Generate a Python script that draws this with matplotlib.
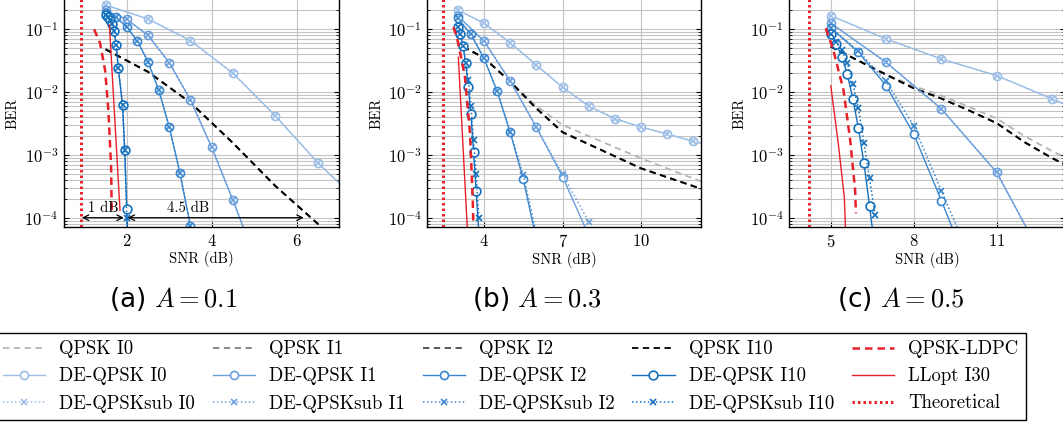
import matplotlib
matplotlib.use('Agg')
import matplotlib.pyplot as plt

plt.rcParams['font.family'] = 'cmr10'
plt.rcParams['mathtext.fontset'] = 'cm'
plt.rcParams['axes.formatter.use_mathtext'] = True
plt.rcParams['axes.unicode_minus'] = False

# ---------------- (a) A = 0.1 ----------------
a_xlim = (0.52, 7.0)
a_xticks = [2, 4, 6]
a_q_snr = [1.5, 2.5, 3.5, 4.5, 5.5, 6.5, 7.0]
a_q0_ber = [0.048, 0.021, 0.0068, 1.55e-3, 3.2e-4, 8.0e-5, 4.0e-5]
a_q1_ber = [0.048, 0.021, 0.0068, 1.55e-3, 3.2e-4, 8.0e-5, 4.0e-5]
a_q2_ber = [0.048, 0.021, 0.0068, 1.55e-3, 3.2e-4, 8.0e-5, 4.0e-5]
a_q10_ber = [0.048, 0.021, 0.0068, 1.55e-3, 3.2e-4, 8.0e-5, 4.0e-5]
a_de0_snr = [1.5, 2.5, 3.5, 4.5, 5.5, 6.5, 7.5]
a_de0_ber = [0.244, 0.146, 0.066, 0.020, 0.0042, 7.5e-4, 1.7e-4]
a_sub0_ber = [0.244, 0.146, 0.066, 0.020, 0.0042, 7.5e-4, 1.7e-4]
a_de1_snr = [1.5, 2.0, 2.5, 3.0, 3.5, 4.0, 4.5, 5.0]
a_de1_ber = [0.20, 0.144, 0.08, 0.0295, 0.0075, 1.32e-3, 1.9e-4, 2.5e-5]
a_sub1_ber = [0.20, 0.144, 0.08, 0.0295, 0.0075, 1.32e-3, 1.9e-4, 2.5e-5]
a_de2_snr = [1.5, 1.75, 2.0, 2.25, 2.5, 2.75, 3.0, 3.25, 3.5]
a_de2_ber = [0.18, 0.155, 0.108, 0.065, 0.0305, 0.0108, 0.0028, 5.2e-4, 7.3e-5]
a_sub2_ber = [0.18, 0.155, 0.108, 0.065, 0.0305, 0.0108, 0.0028, 5.2e-4, 7.3e-5]
a_de10_snr = [1.5, 1.55, 1.6, 1.65, 1.7, 1.75, 1.8, 1.9, 1.95, 2.0, 2.05]
a_de10_ber = [0.17, 0.158, 0.14, 0.12, 0.094, 0.056, 0.024, 0.0062, 1.2e-3, 1.4e-4, 1e-6]
a_sub10_ber = [0.17, 0.158, 0.14, 0.12, 0.094, 0.056, 0.024, 0.0062, 1.2e-3, 1.0e-4, 1e-6]
a_ldpc_snr = [1.23, 1.37, 1.49, 1.565, 1.63, 1.645]
a_ldpc_ber = [0.1, 0.06, 0.022, 5.2e-3, 6.5e-4, 1.2e-4]
a_ll_snr = [1.59, 1.84]
a_ll_ber = [0.117, 1.3e-4]
a_theory = 0.92

# ---------------- (b) A = 0.3 ----------------
b_xlim = (1.83, 12.3)
b_xticks = [4, 7, 10]
b_q_snr = [3.2, 4, 5, 6, 7, 10, 12.5]
b_q0_ber = [0.053, 0.035, 0.0147, 0.006, 0.003, 8.8e-4, 3.5e-4]
b_q1_ber = [0.053, 0.035, 0.0147, 0.0055, 2.3e-3, 6.1e-4, 2.7e-4]
b_q2_ber = [0.053, 0.035, 0.0147, 0.0055, 2.3e-3, 6.1e-4, 2.7e-4]
b_q10_ber = [0.053, 0.035, 0.0147, 0.0055, 2.3e-3, 6.1e-4, 2.7e-4]
b_de0_snr = [3, 4, 5, 6, 7, 8, 9, 10, 11, 12, 13]
b_de0_ber = [0.203, 0.125, 0.061, 0.027, 0.0119, 0.006, 0.00378, 0.00278, 0.00215, 0.00164, 0.0013]
b_sub0_ber = [0.203, 0.125, 0.061, 0.027, 0.0119, 0.006, 0.00378, 0.00278, 0.00215, 0.00164, 0.0013]
b_de1_snr = [3, 4, 5, 6, 7, 8]
b_de1_ber = [0.163, 0.065, 0.015, 0.00275, 4.5e-4, 5.2e-5]
b_sub1_ber = [0.163, 0.065, 0.015, 0.00275, 4.9e-4, 8.6e-5]
b_de2_snr = [3, 3.5, 4, 4.5, 5, 5.5, 6]
b_de2_ber = [0.15, 0.083, 0.0345, 0.0104, 0.00229, 4.1e-4, 4.5e-5]
b_sub2_ber = [0.15, 0.083, 0.0345, 0.0104, 0.00229, 4.8e-4, 5.5e-5]
b_de10_snr = [3.0, 3.1, 3.2, 3.3, 3.4, 3.5, 3.6, 3.7, 3.8]
b_de10_ber = [0.11, 0.083, 0.054, 0.0294, 0.0119, 0.00448, 0.00112, 2.7e-4, 6e-5]
b_sub10_ber = [0.11, 0.083, 0.054, 0.0294, 0.0156, 0.006, 0.00173, 4.9e-4, 1e-4]
b_ldpc_snr = [2.83, 2.96, 3.1, 3.27, 3.465, 3.57, 3.59]
b_ldpc_ber = [0.108, 0.076, 0.04, 0.0176, 2.2e-3, 1.9e-4, 8.1e-5]
b_ll_snr = [3.02, 3.36]
b_ll_ber = [0.036, 7e-5]
b_theory = 2.42

# ---------------- (c) A = 0.5 ----------------
c_xlim = (3.5, 13.45)
c_xticks = [5, 8, 11]
c_q_snr = [5, 6, 7, 8, 9, 10, 11, 12, 13, 13.5]
c_q0_ber = [0.053, 0.0316, 0.019, 0.0125, 8.8e-3, 5.8e-3, 3.8e-3, 2.0e-3, 1.15e-3, 9e-4]
c_q1_ber = [0.053, 0.0316, 0.019, 0.0115, 7.9e-3, 5.1e-3, 3.2e-3, 1.6e-3, 8.9e-4, 6.9e-4]
c_q2_ber = [0.053, 0.0316, 0.019, 0.0115, 7.9e-3, 5.1e-3, 3.2e-3, 1.6e-3, 8.9e-4, 6.9e-4]
c_q10_ber = [0.053, 0.0316, 0.019, 0.0115, 7.9e-3, 5.1e-3, 3.2e-3, 1.6e-3, 8.9e-4, 6.9e-4]
c_de0_snr = [5, 7, 9, 11, 13, 15]
c_de0_ber = [0.165, 0.070, 0.0337, 0.0183, 0.0078, 0.0033]
c_sub0_ber = [0.165, 0.070, 0.0337, 0.0183, 0.0078, 0.0033]
c_de1_snr = [5, 7, 9, 11, 13]
c_de1_ber = [0.125, 0.0298, 0.0054, 5.25e-4, 1.2e-5]
c_sub1_ber = [0.125, 0.0298, 0.0054, 5.25e-4, 1.2e-5]
c_de2_snr = [5, 6, 7, 8, 9, 10]
c_de2_ber = [0.106, 0.043, 0.0127, 0.00215, 1.86e-4, 1.5e-5]
c_sub2_ber = [0.106, 0.045, 0.0148, 0.0029, 2.7e-4, 2.5e-5]
c_de10_snr = [5.0, 5.2, 5.4, 5.6, 5.8, 6.0, 6.2, 6.4, 6.6]
c_de10_ber = [0.083, 0.058, 0.0367, 0.0192, 0.0077, 0.00265, 7.3e-4, 1.55e-4, 3e-5]
c_sub10_ber = [0.083, 0.062, 0.046, 0.0287, 0.0133, 0.0055, 0.00153, 4.3e-4, 1.1e-4]
c_ldpc_snr = [4.82, 5.09, 5.46, 5.70, 5.88, 5.91]
c_ldpc_ber = [0.104, 0.047, 0.0107, 1.74e-3, 2.75e-4, 1.17e-4]
c_ll_snr = [5.0, 5.27, 5.49, 5.53]
c_ll_ber = [0.0126, 1.53e-3, 2.1e-4, 7e-5]
c_theory = 4.22

captions = ['(a) $A = 0.1$', '(b) $A = 0.3$', '(c) $A = 0.5$']
iters = ['I0', 'I1', 'I2', 'I10']

q_colors = ['#b5b5b5', '#808080', '#4a4a4a', 'black']
de_colors = ['#9bbde6', '#6b9fdc', '#3b87cf', '#1570be']
red = '#e8202a'

panels = [
    dict(xlim=a_xlim, xticks=a_xticks, q_snr=a_q_snr,
         q=[a_q0_ber, a_q1_ber, a_q2_ber, a_q10_ber],
         de=[(a_de0_snr, a_de0_ber, a_sub0_ber), (a_de1_snr, a_de1_ber, a_sub1_ber),
             (a_de2_snr, a_de2_ber, a_sub2_ber), (a_de10_snr, a_de10_ber, a_sub10_ber)],
         ldpc=(a_ldpc_snr, a_ldpc_ber), ll=(a_ll_snr, a_ll_ber), theory=a_theory),
    dict(xlim=b_xlim, xticks=b_xticks, q_snr=b_q_snr,
         q=[b_q0_ber, b_q1_ber, b_q2_ber, b_q10_ber],
         de=[(b_de0_snr, b_de0_ber, b_sub0_ber), (b_de1_snr, b_de1_ber, b_sub1_ber),
             (b_de2_snr, b_de2_ber, b_sub2_ber), (b_de10_snr, b_de10_ber, b_sub10_ber)],
         ldpc=(b_ldpc_snr, b_ldpc_ber), ll=(b_ll_snr, b_ll_ber), theory=b_theory),
    dict(xlim=c_xlim, xticks=c_xticks, q_snr=c_q_snr,
         q=[c_q0_ber, c_q1_ber, c_q2_ber, c_q10_ber],
         de=[(c_de0_snr, c_de0_ber, c_sub0_ber), (c_de1_snr, c_de1_ber, c_sub1_ber),
             (c_de2_snr, c_de2_ber, c_sub2_ber), (c_de10_snr, c_de10_ber, c_sub10_ber)],
         ldpc=(c_ldpc_snr, c_ldpc_ber), ll=(c_ll_snr, c_ll_ber), theory=c_theory),
]

W, H = 1063, 425
fig = plt.figure(figsize=(W / 100, H / 100), dpi=100)

ylo, yhi = 10 ** -4.148, 10 ** -0.398
ax_h = 3.75 * 62.8
lefts = [64, 427.2, 789.3]
widths = [275, 274.1, 275.2]
label_x = [13, 377, 740]
cap_x = [173, 537, 901]

handles = {}
for i, p in enumerate(panels):
    ax = fig.add_axes([lefts[i] / W, (H - 227) / H, widths[i] / W, ax_h / H])
    ax.set_yscale('log')
    for k in range(4):
        h, = ax.plot(p['q_snr'], p['q'][k], color=q_colors[k], lw=1.3,
                     ls=(0, (3.5, 2.5)), label='QPSK ' + iters[k])
        handles[('q', k)] = h
    for k in range(4):
        snr, ber, sub = p['de'][k]
        ms = 6.3 if k == 3 else 5.8
        h, = ax.plot(snr, ber, color=de_colors[k], lw=1.0, marker='o', ms=ms,
                     mfc='white', mew=1.2, label='DE-QPSK ' + iters[k])
        handles[('de', k)] = h
        h, = ax.plot(snr, sub, color=de_colors[k], lw=1.1, ls=(0, (1, 1.6)),
                     marker='x', ms=4.5, mew=1.2, label='DE-QPSKsub ' + iters[k])
        handles[('sub', k)] = h
    h, = ax.plot(*p['ldpc'], color=red, lw=1.8, ls=(0, (3, 2)), label='QPSK-LDPC')
    handles['ldpc'] = h
    h, = ax.plot(*p['ll'], color=red, lw=1.0, label='LLopt I30')
    handles['ll'] = h
    h = ax.axvline(p['theory'], color=red, lw=2.2, ls=(0, (0.8, 1.0)), label='Theoretical')
    handles['th'] = h

    ax.set_xlim(*p['xlim'])
    ax.set_ylim(ylo, yhi)
    ax.set_xticks(p['xticks'])
    ax.set_axisbelow(True)
    ax.grid(True, which='major', color='#c4c4c4', lw=0.8)
    ax.grid(True, which='minor', axis='y', color='#c4c4c4', lw=0.8)
    ax.tick_params(which='both', direction='in', right=True, top=True, labelsize=12)
    ax.tick_params(which='major', length=3.5, pad=4)
    ax.tick_params(which='minor', length=2)
    for s in ax.spines.values():
        s.set_linewidth(1.0)
    ax.set_xlabel('SNR (dB)', fontsize=10.5, labelpad=2)
    fig.text(label_x[i] / W, 1 - 113 / H, 'BER', rotation=90, ha='center',
             va='center', fontsize=10.5)
    fig.text(cap_x[i] / W, 1 - 299 / H, captions[i], ha='center', va='center',
             fontsize=19, family='DejaVu Sans')

    if i == 0:
        ax.annotate('', xy=(0.94, 1e-4), xytext=(1.93, 1e-4),
                    arrowprops=dict(arrowstyle='<->', lw=0.9, color='black',
                                    shrinkA=0, shrinkB=0))
        ax.annotate('', xy=(2.02, 1e-4), xytext=(6.17, 1e-4),
                    arrowprops=dict(arrowstyle='<->', lw=0.9, color='black',
                                    shrinkA=0, shrinkB=0))
        ax.text(1.45, 1.42e-4, '1 dB', ha='center', va='center', fontsize=10.5)
        ax.text(3.45, 1.42e-4, '4.5 dB', ha='center', va='center', fontsize=10.5)

rows = [[handles[('q', k)] for k in range(4)] + [handles['ldpc']],
        [handles[('de', k)] for k in range(4)] + [handles['ll']],
        [handles[('sub', k)] for k in range(4)] + [handles['th']]]
order = [rows[r][c] for c in range(5) for r in range(3)]
leg = fig.legend(order, [h.get_label() for h in order], ncol=5,
                 loc='upper right', bbox_to_anchor=(1025.7 / W, 1 - 332.7 / H),
                 bbox_transform=fig.transFigure, borderaxespad=0,
                 fontsize=13.5, handlelength=2.25, handletextpad=0.75,
                 columnspacing=0.95, labelspacing=0.49, borderpad=0.4,
                 fancybox=False, edgecolor='black', framealpha=1)
leg.get_frame().set_linewidth(1.0)

fig.savefig('out.png', dpi=100)
